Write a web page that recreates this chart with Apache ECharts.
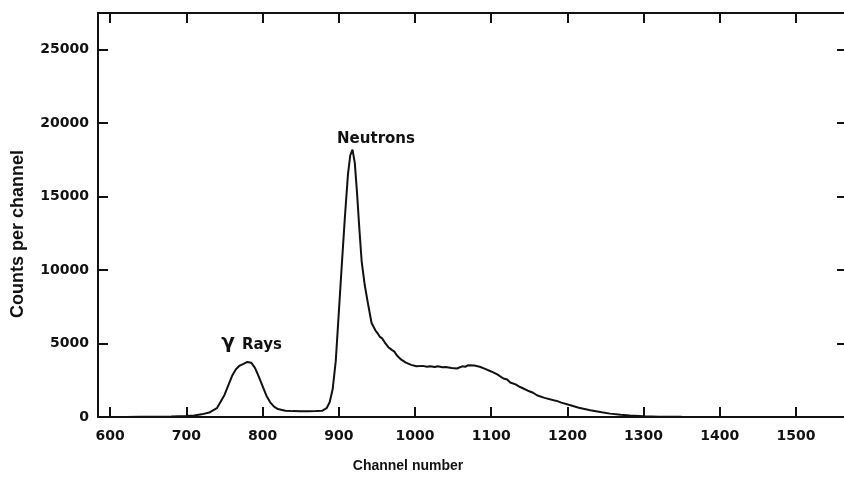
<!DOCTYPE html>
<html>
<head>
<meta charset="utf-8">
<title>Channel spectrum</title>
<script src="https://cdn.jsdelivr.net/npm/echarts@6.0.0/dist/echarts.min.js"></script>
<style>
  html, body { margin: 0; padding: 0; background: #fff; }
  #chart { width: 844px; height: 479px; }
</style>
</head>
<body>
<div id="chart"></div>
<script>
// spectrum (channel, counts per channel)
const channels = [
  584, 600, 620, 640, 660, 680, 700, 710, 720, 730, 740, 750, 755, 760, 765, 770,
  775, 780, 785, 790, 795, 800, 805, 810, 815, 820, 830, 840, 850, 860, 870, 878,
  884, 888, 892, 896, 900, 904, 908, 912, 915, 918, 921, 924, 927, 930, 934, 938,
  943, 948, 951, 954, 957, 960, 965, 970, 973, 976, 982, 988, 995, 1002, 1010, 1016,
  1020, 1026, 1030, 1036, 1040, 1048, 1055, 1062, 1066, 1070, 1078, 1085, 1092, 1100,
  1108, 1116, 1121, 1125, 1132, 1138, 1150, 1155, 1160, 1170, 1182, 1187, 1192, 1204,
  1215, 1230, 1245, 1256, 1270, 1282, 1300, 1320, 1350, 1400, 1450, 1500, 1563
];
const counts = [
  0, 0, 0, 20, 20, 30, 60, 100, 180, 300, 600, 1500, 2150, 2800, 3250, 3500,
  3620, 3750, 3700, 3350, 2750, 2100, 1450, 1000, 700, 540, 430, 400, 390, 390, 400, 420,
  600, 1000, 1900, 3800, 7100, 10400, 13600, 16500, 17800, 18200, 17300, 15200, 12800, 10600, 9000, 7800,
  6400, 5900, 5700, 5450, 5350, 5100, 4750, 4550, 4450, 4200, 3900, 3700, 3550, 3450, 3480, 3420,
  3460, 3400, 3450, 3380, 3400, 3330, 3300, 3450, 3420, 3530, 3500, 3420, 3280, 3100,
  2900, 2620, 2550, 2350, 2220, 2040, 1750, 1650, 1480, 1300, 1140, 1080, 980, 800,
  630, 460, 320, 230, 160, 110, 50, 20, 10, 5, 5, 5, 0
];
const xTicks = [600, 700, 800, 900, 1000, 1100, 1200, 1300, 1400, 1500];
const yTicks = [0, 5000, 10000, 15000, 20000, 25000];

const chart = echarts.init(document.getElementById("chart"), null, { renderer: "canvas" });

const tickFont = {
  fontFamily: "DejaVu Sans",
  fontWeight: "bold",
  fontSize: 14,
  color: "#111",
};
const plain = (v) => String(v);

const option = {
  backgroundColor: "#fff",
  animation: false,
  grid: { left: 98, right: 0, top: 13, bottom: 62 },
  xAxis: [
    {
      type: "value",
      min: 584,
      max: 1563,
      position: "bottom",
      splitLine: { show: false },
      axisLine: { show: true, onZero: false, lineStyle: { color: "#111", width: 2 } },
      axisTick: { inside: true, length: 10, customValues: xTicks, lineStyle: { color: "#111", width: 2 } },
      axisLabel: Object.assign({ customValues: xTicks, margin: 12, formatter: plain }, tickFont),
    },
    {
      type: "value",
      min: 584,
      max: 1563,
      position: "top",
      splitLine: { show: false },
      axisLine: { show: true, onZero: false, lineStyle: { color: "#111", width: 2 } },
      axisTick: { inside: true, length: 10, customValues: xTicks, lineStyle: { color: "#111", width: 2 } },
      axisLabel: { show: false },
    },
  ],
  yAxis: [
    {
      type: "value",
      min: 0,
      max: 27500,
      position: "left",
      splitLine: { show: false },
      axisLine: { show: true, onZero: false, lineStyle: { color: "#111", width: 2 } },
      axisTick: { inside: true, length: 10, customValues: yTicks, lineStyle: { color: "#111", width: 2 } },
      axisLabel: Object.assign({ customValues: yTicks, margin: 9, formatter: plain }, tickFont),
    },
    {
      type: "value",
      min: 0,
      max: 27500,
      position: "right",
      splitLine: { show: false },
      axisLine: { show: false, onZero: false },
      axisTick: { show: true, inside: true, length: 7, customValues: yTicks, lineStyle: { color: "#111", width: 2 } },
      axisLabel: { show: false },
    },
  ],
  series: [
    {
      type: "line",
      data: channels.map((c, i) => [c, counts[i]]),
      showSymbol: false,
      smooth: false,
      lineStyle: { color: "#111", width: 2 },
    },
  ],
  graphic: [
    {
      type: "text",
      x: 18,
      y: 234,
      rotation: Math.PI / 2,
      style: {
        text: "Counts per channel",
        font: "bold 18px 'Liberation Sans'",
        fill: "#111",
        align: "center",
        verticalAlign: "middle",
      },
    },
    {
      type: "text",
      x: 408,
      y: 466,
      style: {
        text: "Channel number",
        font: "bold 14px 'Liberation Sans'",
        fill: "#111",
        align: "center",
        verticalAlign: "middle",
      },
    },
    {
      type: "text",
      x: 376,
      y: 139,
      style: {
        text: "Neutrons",
        font: "bold 15px 'DejaVu Sans'",
        fill: "#111",
        align: "center",
        verticalAlign: "middle",
      },
    },
    {
      type: "text",
      x: 228,
      y: 343,
      style: {
        text: "γ",
        font: "bold 20px 'DejaVu Sans'",
        fill: "#111",
        align: "center",
        verticalAlign: "middle",
      },
    },
    {
      type: "text",
      x: 262,
      y: 345,
      style: {
        text: "Rays",
        font: "bold 15px 'DejaVu Sans'",
        fill: "#111",
        align: "center",
        verticalAlign: "middle",
      },
    },
  ],
};

chart.setOption(option);
</script>
</body>
</html>
